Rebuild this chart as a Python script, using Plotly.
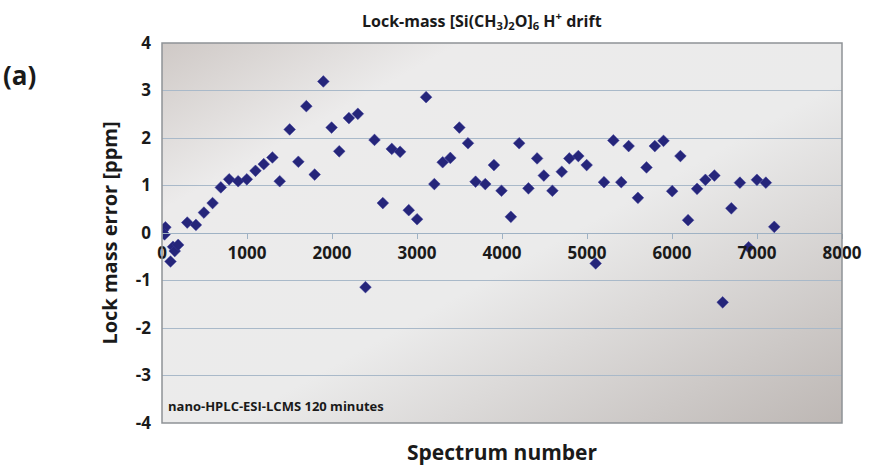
import plotly.graph_objects as go
import base64

spectrum = [10, 40, 30, 100, 130, 150, 190, 297, 399, 493, 595, 692, 790, 896, 998,
            1100, 1197, 1299, 1385, 1502, 1604, 1698, 1796, 1898, 1995, 2085, 2199,
            2304, 2394, 2500, 2598, 2703, 2801, 2903, 3001, 3107, 3204, 3302, 3392,
            3498, 3600, 3689, 3803, 3905, 3994, 4104, 4202, 4311, 4413, 4492, 4593,
            4703, 4792, 4898, 4996, 5102, 5200, 5310, 5403, 5490, 5599, 5700, 5798,
            5900, 6002, 6099, 6189, 6295, 6393, 6499, 6596, 6698, 6799, 6901, 6999,
            7104, 7203]
error_ppm = [0.06, 0.12, -0.03, -0.6, -0.29, -0.38, -0.25, 0.22, 0.17, 0.43, 0.63,
             0.96, 1.13, 1.09, 1.13, 1.31, 1.45, 1.59, 1.09, 2.18, 1.50, 2.67, 1.23,
             3.19, 2.22, 1.72, 2.42, 2.51, -1.14, 1.96, 0.63, 1.77, 1.71, 0.48, 0.29,
             2.86, 1.03, 1.49, 1.58, 2.22, 1.89, 1.08, 1.03, 1.43, 0.89, 0.34, 1.89,
             0.94, 1.57, 1.21, 0.89, 1.29, 1.57, 1.62, 1.43, -0.64, 1.07, 1.95, 1.07,
             1.83, 0.74, 1.38, 1.83, 1.94, 0.88, 1.62, 0.27, 0.93, 1.12, 1.21, -1.46,
             0.52, 1.06, -0.30, 1.12, 1.06, 0.13]
x_ticks = [0, 1000, 2000, 3000, 4000, 5000, 6000, 7000, 8000]
y_ticks = [-4, -3, -2, -1, 0, 1, 2, 3, 4]

FONT = "Open Sans"

svg = ('<svg xmlns="http://www.w3.org/2000/svg" width="400" height="200" preserveAspectRatio="none">'
       '<defs><linearGradient id="g" x1="0" y1="0" x2="1" y2="1">'
       '<stop offset="0" stop-color="#cfc9c6"/>'
       '<stop offset="0.22" stop-color="#ecebeb"/>'
       '<stop offset="0.55" stop-color="#ebebeb"/>'
       '<stop offset="1" stop-color="#bdb7b4"/>'
       '</linearGradient></defs>'
       '<rect width="400" height="200" fill="url(#g)"/></svg>')
bg_src = "data:image/svg+xml;base64," + base64.b64encode(svg.encode()).decode()

fig = go.Figure()
fig.add_trace(go.Scatter(
    x=spectrum, y=error_ppm, mode="markers",
    marker=dict(symbol="diamond", size=9, color="#25257a",
                line=dict(color="#3a3a9a", width=0.5)),
    showlegend=False, hoverinfo="x+y",
))

fig.update_layout(
    width=874, height=469,
    margin=dict(l=162, r=30, t=43, b=46),
    paper_bgcolor="white",
    plot_bgcolor="#e6e5e4",
    font=dict(family=FONT, color="#1a1a1a"),
    images=[dict(source=bg_src, xref="x domain", yref="y domain", x=0, y=1,
                 sizex=1, sizey=1, xanchor="left", yanchor="top",
                 sizing="stretch", layer="below")],
    xaxis=dict(range=[0, 8000], tickvals=x_ticks, ticktext=[str(v) for v in x_ticks],
               showgrid=False, zeroline=False, anchor="free", position=0.5,
               showline=True, linecolor="#9fb2c4", linewidth=1,
               ticks="outside", ticklen=5, tickcolor="#9fb2c4",
               tickfont=dict(size=17, family=FONT, weight="bold", color="#1a1a1a")),
    yaxis=dict(range=[-4, 4], tickvals=y_ticks, ticktext=[str(v) for v in y_ticks],
               showgrid=True, gridcolor="#a9b9c9", gridwidth=1, zeroline=False,
               showline=False, ticks="", ticklabelstandoff=10,
               tickfont=dict(size=17, family=FONT, weight="bold", color="#1a1a1a"),
               title=dict(text="Lock mass error [ppm]", standoff=12,
                          font=dict(size=20, family=FONT, weight="bold", color="#1a1a1a"))),
    shapes=[dict(type="rect", xref="x domain", yref="y domain", x0=0, x1=1, y0=0, y1=1,
                 line=dict(color="#8f9296", width=1.5), layer="above")],
    annotations=[
        dict(text="Lock-mass [Si(CH<sub>3</sub>)<sub>2</sub>O]<sub>6</sub> H<sup>+</sup> drift",
             xref="paper", yref="paper", x=0.47, y=1.0, yshift=8, xanchor="center",
             yanchor="bottom", showarrow=False,
             font=dict(size=16, family=FONT, weight="bold", color="#1a1a1a")),
        dict(text="(a)", xref="paper", yref="paper", x=-0.237, y=1.0, yshift=-32,
             xanchor="left", yanchor="middle", showarrow=False,
             font=dict(size=26, family=FONT, weight="bold", color="#1a1a1a")),
        dict(text="nano-HPLC-ESI-LCMS 120 minutes", xref="paper", yref="paper",
             x=0.006, y=0.045, xanchor="left", yanchor="middle", showarrow=False,
             font=dict(size=13, family=FONT, weight="bold", color="#1a1a1a")),
        dict(text="Spectrum number", xref="paper", yref="paper", x=0.5, y=0, yshift=-29,
             xanchor="center", yanchor="middle", showarrow=False,
             font=dict(size=21, family=FONT, weight="bold", color="#1a1a1a")),
    ],
)

fig.write_html("out.html")
